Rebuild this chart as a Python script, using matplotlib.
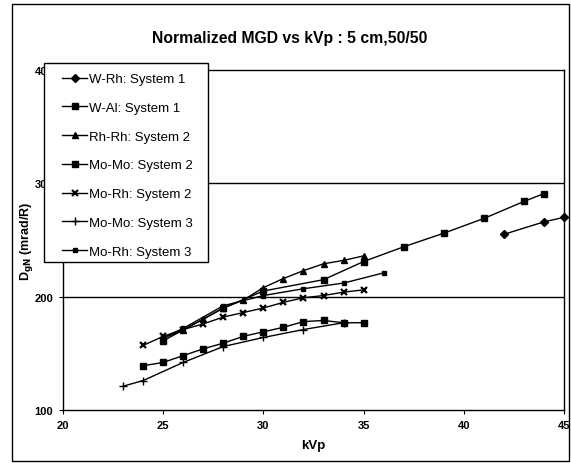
import matplotlib
matplotlib.use("Agg")
import matplotlib.pyplot as plt
from matplotlib.patches import Rectangle

plt.rcParams["font.family"] = ["Liberation Sans", "DejaVu Sans"]

# data
w_rh_x = [42, 44, 45]
w_rh_y = [255, 266, 270]

w_al_x = [25, 28, 30, 33, 35, 37, 39, 41, 43, 44]
w_al_y = [161, 190, 205, 215, 231, 244, 256, 269, 284, 291]

rh_rh2_x = [25, 26, 27, 28, 29, 30, 31, 32, 33, 34, 35]
rh_rh2_y = [163, 171, 180, 190, 197, 208, 216, 223, 229, 232, 236]

mo_mo2_x = [24, 25, 26, 27, 28, 29, 30, 31, 32, 33, 34, 35]
mo_mo2_y = [139, 142, 148, 154, 159, 165, 169, 173, 178, 179, 177, 177]

mo_rh2_x = [24, 25, 26, 27, 28, 29, 30, 31, 32, 33, 34, 35]
mo_rh2_y = [157, 165, 171, 176, 182, 186, 190, 195, 199, 201, 204, 206]

mo_mo3_x = [23, 24, 26, 28, 30, 32, 34]
mo_mo3_y = [121, 126, 142, 156, 164, 171, 177]

mo_rh3_x = [25, 26, 28, 30, 32, 34, 36]
mo_rh3_y = [164, 172, 192, 201, 207, 212, 221]

labels = ["W-Rh: System 1", "W-Al: System 1", "Rh-Rh: System 2",
          "Mo-Mo: System 2", "Mo-Rh: System 2", "Mo-Mo: System 3",
          "Mo-Rh: System 3"]

W, H = 571, 464
fig = plt.figure(figsize=(W / 100, H / 100), dpi=100)
ax = fig.add_axes([63 / W, 1 - 411 / H, (564 - 63) / W, (411 - 71) / H])

kw = dict(color="black", lw=1.0)
ax.plot(w_rh_x, w_rh_y, marker="D", ms=4.5, label=labels[0], clip_on=False, **kw)
ax.plot(w_al_x, w_al_y, marker="s", ms=5, label=labels[1], **kw)
ax.plot(rh_rh2_x, rh_rh2_y, marker="^", ms=5, label=labels[2], **kw)
ax.plot(mo_mo2_x, mo_mo2_y, marker="s", ms=4.5, label=labels[3], **kw)
ax.plot(mo_rh2_x, mo_rh2_y, marker="x", ms=5, mew=1.6, label=labels[4], **kw)
ax.plot(mo_mo3_x, mo_mo3_y, marker="+", ms=6, mew=1.0, label=labels[5], **kw)
ax.plot(mo_rh3_x, mo_rh3_y, marker="s", ms=2.2, label=labels[6], **kw)

ax.set_xlim(20, 45)
ax.set_ylim(100, 400)
ax.set_xticks([20, 25, 30, 35, 40, 45])
ax.set_yticks([100, 200, 300, 400])
for y in [200, 300]:
    ax.axhline(y, color="black", lw=1.0, zorder=0)
for s in ax.spines.values():
    s.set_color("black")
    s.set_linewidth(1.0)
ax.tick_params(length=3, width=0.8, labelsize=8, pad=4)
for t in ax.get_xticklabels() + ax.get_yticklabels():
    t.set_fontweight("bold")

ax.set_xlabel("kVp", fontsize=9.5, fontweight="bold", labelpad=7)
ax.set_ylabel(r"D$_{\mathbf{gN}}$ (mrad/R)", fontsize=9, fontweight="bold",
              labelpad=0)

fig.text(290 / W, 1 - 38 / H, "Normalized MGD vs kVp : 5 cm,50/50",
         ha="center", va="center", fontsize=11.3, fontweight="bold")

# legend box (white, covers part of the y tick labels)
fig.patches.append(Rectangle((44 / W, 1 - 263 / H), (208 - 44) / W,
                             (263 - 64) / H, transform=fig.transFigure,
                             facecolor="white", edgecolor="black", lw=1.0,
                             zorder=4))
handles, _ = ax.get_legend_handles_labels()
leg = fig.legend(handles, labels, loc="upper left",
                 bbox_to_anchor=(62 / W, 1 - 74 / H), borderaxespad=0,
                 borderpad=0, frameon=False, fontsize=9.5, handlelength=1.9,
                 labelspacing=1.25, handletextpad=0.15)
leg.set_zorder(5)

# outer border of the chart area
fig.patches.append(Rectangle((12 / W, 1 - 462 / H), (569 - 12) / W,
                             (462 - 5) / H, transform=fig.transFigure,
                             fill=False, edgecolor="black", lw=1.0))

fig.savefig("out.png", dpi=100)
